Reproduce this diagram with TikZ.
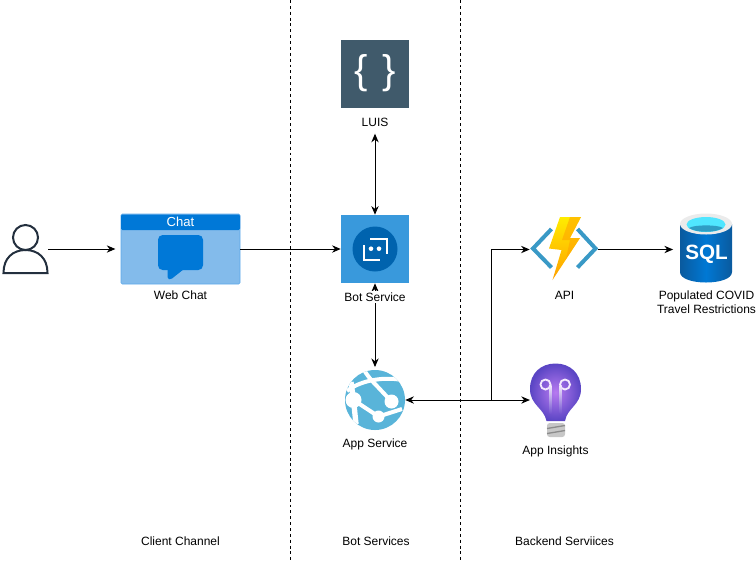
\documentclass[tikz,border=0pt]{standalone}
\usepackage{fontspec}
\setmainfont{Liberation Sans}
\usetikzlibrary{arrows.meta}
\definecolor{userline}{HTML}{232F3E}
\definecolor{chatblue}{HTML}{0078D7}
\definecolor{chatbody}{HTML}{83BBEB}
\definecolor{chatedge}{HTML}{5EA9EA}
\definecolor{botblue}{HTML}{3999DC}
\definecolor{botdark}{HTML}{0063AE}
\definecolor{luisgray}{HTML}{405A6B}
\definecolor{appblue}{HTML}{59B4D9}
\definecolor{apiblue}{HTML}{3999C6}
\definecolor{sqldark}{HTML}{0A5A9E}
\definecolor{sqlmid}{HTML}{0078D4}
\definecolor{sqlcyan}{HTML}{50E6FF}
\definecolor{sqlteal}{HTML}{2F9DC4}
\definecolor{bulbdark}{HTML}{5A45C4}
\definecolor{bulblight}{HTML}{B77AF0}
\begin{document}
\begin{tikzpicture}[x=0.75pt,y=-0.75pt]
            \tikzstyle{every node}=[inner sep=0pt, font=\fontsize{9}{10.5}\selectfont, text=black]
            \tikzstyle{icon}=[minimum width=51pt, minimum height=51pt]
            \tikzstyle{link}=[black, line width=0.75pt, -{Stealth[length=6.5pt,width=5.5pt]}]
            \tikzstyle{both}=[black, line width=0.75pt, {Stealth[length=6.5pt,width=5.5pt]}-{Stealth[length=6.5pt,width=5.5pt]}]
            \tikzstyle{divider}=[black, line width=0.75pt, dash pattern=on 2.2pt off 2.2pt]

            \useasboundingbox (0,0) rectangle (756,562);

            \coordinate (divAtop) at (290.5,0);
            \coordinate (divAbot) at (290.5,562);
            \coordinate (divBtop) at (460.5,0);
            \coordinate (divBbot) at (460.5,562);
            \draw[divider] (divAtop) -- (divAbot);
            \draw[divider] (divBtop) -- (divBbot);

            \node[minimum width=33.75pt, minimum height=36pt] (user) at (25.5,249) {};
            \node[minimum width=89.25pt, minimum height=52.5pt, fill=chatbody, draw=chatedge, rounded corners=1pt] (chat) at (180.5,249) {};
            \node[icon, fill=botblue] (bot) at (375,249) {};
            \node[icon, fill=luisgray] (luis) at (375,74) {};
            \node[icon, minimum width=45pt, minimum height=45pt] (app) at (375,400) {};
            \node[icon, minimum height=47pt] (api) at (564,249.5) {};
            \node[icon, minimum width=39pt] (sql) at (706,249.5) {};
            \node[icon, minimum width=38pt, minimum height=54pt] (insights) at (555.5,400) {};
            \node (luislabel) at (375,122.5) {LUIS};
            \coordinate (fork) at (491,400);

            % user
            \draw[userline, line width=1.5pt] (25.5,237.5) circle (12.5);
            \draw[userline, line width=1.5pt, line cap=round] (3.5,273) .. controls (3.5,258) and (13,250) .. (25.5,250) .. controls (38,250) and (47.5,258) .. (47.5,273) -- cycle;

            % chat window
            \fill[chatblue, rounded corners=1pt] (121,214.5) rectangle (240,230);
            \node[text=white, font=\fontsize{9.8}{10.5}\selectfont] (chattitle) at (180.5,222) {Chat};
            \fill[chatblue, rounded corners=3.5pt] (158,235) rectangle (203,270);
            \fill[chatblue, line join=round] (167.5,268) -- (167.5,277) .. controls (167.5,279.5) and (170,280) .. (172,278.5) -- (184,269) -- cycle;

            % luis braces
            \node[text=white, font=\fontsize{30}{30}\selectfont] (luisleft) at (361.5,73.5) {\{};
            \node[text=white, font=\fontsize{30}{30}\selectfont] (luisright) at (389,73.5) {\}};

            % bot icon
            \fill[botdark] (375,249) circle (22.5);
            \draw[white, line width=1.5pt] (370,238.5) -- (386.5,238.5) -- (386.5,253.5);
            \draw[white, line width=1.5pt] (363.5,245) -- (363.5,260) -- (380,260);
            \fill[white] (371,248.7) circle (2.3);
            \fill[white] (379,248.7) circle (2.3);

            % app service globe
            \fill[appblue] (375,400) circle (30);
            \begin{scope}
            \clip (375,400) circle (30);
            \draw[white, line width=3pt] (364,370) .. controls (369,378) and (373,382) .. (376,385) -- (391.5,401.5);
            \draw[white, line width=3pt] (347,391) .. controls (358,382) and (380,376) .. (402,380);
            \draw[white, line width=4pt] (351,382) -- (353.5,400) -- (356,424);
            \draw[white, line width=3pt] (353.5,400) -- (378.5,416.5) -- (402,409);
            \end{scope}
            \fill[white] (353.5,400) circle (8);
            \fill[white] (378.5,416.5) circle (6);
            \fill[white] (391.5,401.5) circle (7);

            % api icon
            \draw[apiblue, line width=3pt] (551.5,229) -- (533,248.5) -- (551.5,267.5);
            \draw[apiblue, line width=3pt] (577.5,229) -- (595.5,248.5) -- (577.5,267.5);
            \shade[top color=yellow!85!orange, bottom color=orange!75!yellow] (560,217) -- (581,217) -- (570,238) -- (580,238) -- (552.5,280) -- (561.5,250) -- (549,248.5) -- cycle;
            \fill[orange!70!yellow, opacity=0.6] (570,217) -- (581,217) -- (570,238) -- (580,238) -- (566,259) -- (570,240) -- (562,240) -- cycle;

            % sql cylinder
            \shade[left color=sqldark, right color=sqldark, middle color=sqlmid] (680,224) -- (680,272) .. controls (680,286) and (732,286) .. (732,272) -- (732,224) -- cycle;
            \fill[black!8] (706,224) ellipse (26 and 10.5);
            \fill[sqlcyan] (706,224.5) ellipse (19.5 and 7.5);
            \fill[sqlteal] (689,228) .. controls (694,224.5) and (718,224.5) .. (723,228) .. controls (716,233) and (696,233) .. (689,228) -- cycle;
            \node[text=white, font=\fontsize{15.5}{16}\bfseries\selectfont] (sqltext) at (706.5,254) {SQL};

            % insights bulb
            \shade[inner color=bulblight, outer color=bulbdark] (546.5,421) .. controls (544,408) and (530,405) .. (530,389) .. controls (530,373) and (541,363.5) .. (555.5,363.5) .. controls (570,363.5) and (581,373) .. (581,389) .. controls (581,405) and (567,408) .. (565,421) -- cycle;
            \fill[black!22, rounded corners=2pt] (547,423) rectangle (565,437);
            \draw[black!45, line width=1pt] (547,428.5) -- (565,425.5);
            \draw[black!45, line width=1pt] (547,433.5) -- (565,430.5);
            \draw[white!85!bulblight, line width=1.4pt] (545.5,384.5) circle (5);
            \draw[white!85!bulblight, line width=1.4pt] (565,384.5) circle (5);
            \shade[top color=white!85!bulblight, bottom color=bulbdark!70!bulblight] (549.5,385) rectangle (551.5,413);
            \shade[top color=white!85!bulblight, bottom color=bulbdark!70!bulblight] (559.5,385) rectangle (561.5,413);

            % connectors
            \draw[link, shorten >=4pt] (user) -- (chat);
            \draw[link] (chat) -- (bot);
            \draw[both, shorten <=5pt] (luislabel) -- (bot);
            \draw[both, shorten >=2pt] (bot) -- (app);
            \draw[both] (app) -- (insights);
            \draw[link] (fork) |- (api);
            \draw[link, shorten >=5pt] (api) -- (sql);

            % labels
            \node[fill=white, inner ysep=1pt] (chatlabel) at (180.5,295) {Web Chat};
            \node[fill=white, inner ysep=1pt] (botlabel) at (375,297) {Bot Service};
            \node (applabel) at (375,444) {App Service};
            \node (apilabel) at (564.5,295) {API};
            \node[align=center] (sqllabel) at (706.5,302.5) {Populated COVID\\Travel Restrictions};
            \node (insightslabel) at (555.5,451.5) {App Insights};
            \node (clientcaption) at (180.5,541) {Client Channel};
            \node (botcaption) at (376,541) {Bot Services};
            \node (backendcaption) at (564.5,541) {Backend Serviices};
        \end{tikzpicture}
\end{document}
